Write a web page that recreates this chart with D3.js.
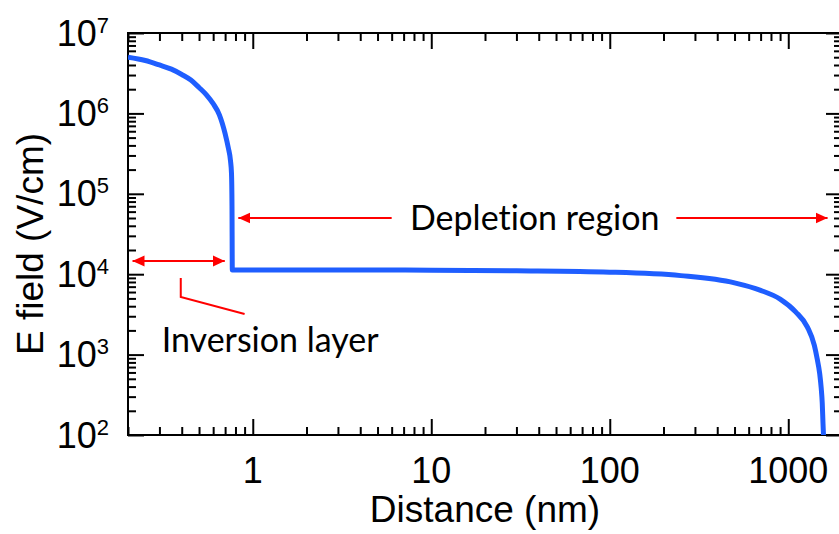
<!DOCTYPE html>
<html>
<head>
<meta charset="utf-8">
<script src="https://cdn.jsdelivr.net/npm/d3@7"></script>
<style>
  body { margin: 0; background: #fff; }
  svg { display: block; }
  .tick-label { font-family: "Liberation Sans", Arial, sans-serif; fill: #000; }
  .note { font-family: Lato, "Open Sans", sans-serif; fill: #000; font-variant-ligatures: none; font-feature-settings: "liga" 0; }
</style>
</head>
<body>
<div id="chart"></div>
<script>
// E field vs distance
var distance = [0.2, 0.25, 0.3, 0.35, 0.4, 0.45, 0.5, 0.55, 0.6, 0.65, 0.7, 0.73, 0.75, 0.76, 0.765, 0.768,
                1, 3, 10, 30, 100, 250, 500, 700, 900, 1100, 1280, 1400, 1450, 1500, 1530, 1550, 1565, 1575];
var field = [5.0e6, 4.55e6, 4.0e6, 3.55e6, 3.05e6, 2.6e6, 2.1e6, 1.7e6, 1.32e6, 9.6e5, 5.6e5, 3.7e5, 2.6e5, 1.8e5, 7e4, 1.13e4,
             1.13e4, 1.13e4, 1.12e4, 1.1e4, 1.06e4, 9.6e3, 7.8e3, 6.3e3, 4.9e3, 3.4e3, 2.2e3, 1.3e3, 900, 580, 380, 250, 140, 100];

var xTickValues = [1, 10, 100, 1000];
var xTickLabels = ["1", "10", "100", "1000"];
var yExponents = [2, 3, 4, 5, 6, 7];

// annotation anchors, in data units
var depletionLeft = [6, 0.83];      // tail, tip
var depletionRight = [236, 1660];
var depletionY = 5e4;
var depletionText = { x: 38, y: 5e4, label: "Depletion region" };
var inversionArrow = [0.212, 0.697];
var inversionY = 1.46e4;
var leader = [[0.395, 9e3], [0.395, 5.2e3], [0.9, 3.2e3]];
var inversionText = { x: 0.309, y: 1.08e3, label: "Inversion layer" };

var width = 839, height = 534;
var margin = { top: 33, right: -3, bottom: 99, left: 128 };

var svg = d3.select("#chart").append("svg")
  .attr("width", width).attr("height", height);

var x = d3.scaleLog().domain([0.2, 2000]).range([margin.left, width - margin.right]);
var y = d3.scaleLog().domain([100, 1e7]).range([height - margin.bottom, margin.top]);

var minorX = [];
[0.1, 1, 10, 100, 1000].forEach(function(d) {
  for (var k = 2; k <= 9; k++) { var v = d * k; if (v >= 0.2 && v <= 2000) minorX.push(v); }
});
var minorY = [];
[100, 1e3, 1e4, 1e5, 1e6].forEach(function(d) {
  for (var k = 2; k <= 9; k++) minorY.push(d * k);
});
var majorY = yExponents.map(function(e) { return Math.pow(10, e); });

function drawAxis(axis, tx, ty) {
  var g = svg.append("g").attr("transform", "translate(" + tx + "," + ty + ")").call(axis);
  g.select(".domain").remove();
  g.selectAll("line").attr("stroke", "#000").attr("stroke-width", 2);
  g.selectAll("text").remove();
}

var x0 = x.range()[0], x1 = x.range()[1], y0 = y.range()[0], y1 = y.range()[1];

// ticks point inward on all four sides
drawAxis(d3.axisBottom(x).tickValues(xTickValues).tickSize(-16).tickFormat(""), 0, y0);
drawAxis(d3.axisBottom(x).tickValues(minorX).tickSize(-8).tickFormat(""), 0, y0);
drawAxis(d3.axisTop(x).tickValues(xTickValues).tickSize(-16).tickFormat(""), 0, y1);
drawAxis(d3.axisTop(x).tickValues(minorX).tickSize(-8).tickFormat(""), 0, y1);
drawAxis(d3.axisLeft(y).tickValues(majorY).tickSize(-16).tickFormat(""), x0, 0);
drawAxis(d3.axisLeft(y).tickValues(minorY).tickSize(-8).tickFormat(""), x0, 0);
drawAxis(d3.axisRight(y).tickValues(majorY).tickSize(-16).tickFormat(""), x1, 0);
drawAxis(d3.axisRight(y).tickValues(minorY).tickSize(-8).tickFormat(""), x1, 0);

svg.append("rect")
  .attr("x", x0).attr("y", y1)
  .attr("width", x1 - x0).attr("height", y0 - y1)
  .attr("fill", "none").attr("stroke", "#000").attr("stroke-width", 2);

// tick labels
svg.selectAll(".xlab").data(xTickValues).enter().append("text")
  .attr("class", "tick-label")
  .attr("x", function(d) { return x(d); })
  .attr("y", y0 + 48)
  .attr("text-anchor", "middle")
  .style("font-size", "36px")
  .text(function(d, i) { return xTickLabels[i]; });

var ylab = svg.selectAll(".ylab").data(yExponents).enter().append("text")
  .attr("class", "tick-label")
  .attr("x", x0 - 19)
  .attr("y", function(d) { return y(Math.pow(10, d)) + 12.5; })
  .attr("text-anchor", "end");
ylab.append("tspan").style("font-size", "36px").text("10");
ylab.append("tspan").style("font-size", "22px").attr("dy", -13).text(function(d) { return d; });

// axis titles
svg.append("text")
  .attr("class", "tick-label")
  .attr("x", (x0 + x1) / 2).attr("y", 522)
  .attr("text-anchor", "middle")
  .style("font-size", "37px")
  .text("Distance (nm)");

svg.append("text")
  .attr("class", "tick-label")
  .attr("transform", "translate(43," + ((y0 + y1) / 2 + 10) + ") rotate(-90)")
  .attr("text-anchor", "middle")
  .style("font-size", "37px")
  .text("E field (V/cm)");

// data curve
svg.append("clipPath").attr("id", "plotclip").append("rect")
  .attr("x", x0).attr("y", y1).attr("width", x1 - x0).attr("height", y0 - y1 + 3);

var line = d3.line()
  .x(function(d, i) { return x(distance[i]); })
  .y(function(d, i) { return y(field[i]); })
  .curve(d3.curveMonotoneX);

svg.append("path")
  .datum(distance)
  .attr("clip-path", "url(#plotclip)")
  .attr("d", line)
  .attr("fill", "none")
  .attr("stroke", "#1f5eff")
  .attr("stroke-width", 5)
  .attr("stroke-linejoin", "round");

// annotations
var defs = svg.append("defs");
defs.append("marker")
  .attr("id", "head").attr("markerUnits", "userSpaceOnUse")
  .attr("viewBox", "0 -6 12 12").attr("refX", 12).attr("refY", 0)
  .attr("markerWidth", 12).attr("markerHeight", 12).attr("orient", "auto-start-reverse")
  .append("path").attr("d", "M0,-5.5L12,0L0,5.5Z").attr("fill", "#ff0000");

function arrow(xs, yv, both) {
  var l = svg.append("line")
    .attr("x1", x(xs[0])).attr("x2", x(xs[1]))
    .attr("y1", y(yv)).attr("y2", y(yv))
    .attr("stroke", "#ff0000").attr("stroke-width", 2)
    .attr("marker-end", "url(#head)");
  if (both) l.attr("marker-start", "url(#head)");
}
arrow(depletionLeft, depletionY, false);
arrow(depletionRight, depletionY, false);
arrow(inversionArrow, inversionY, true);

svg.append("path")
  .attr("d", d3.line().x(function(d) { return x(d[0]); }).y(function(d) { return y(d[1]); })(leader))
  .attr("fill", "none").attr("stroke", "#ff0000").attr("stroke-width", 2);

svg.append("text")
  .attr("class", "note")
  .attr("x", x(depletionText.x)).attr("y", y(depletionText.y) + 12)
  .attr("text-anchor", "middle")
  .style("font-size", "34px")
  .text(depletionText.label);

svg.append("text")
  .attr("class", "note")
  .attr("x", x(inversionText.x)).attr("y", y(inversionText.y))
  .style("font-size", "34px")
  .text(inversionText.label);
</script>
</body>
</html>
